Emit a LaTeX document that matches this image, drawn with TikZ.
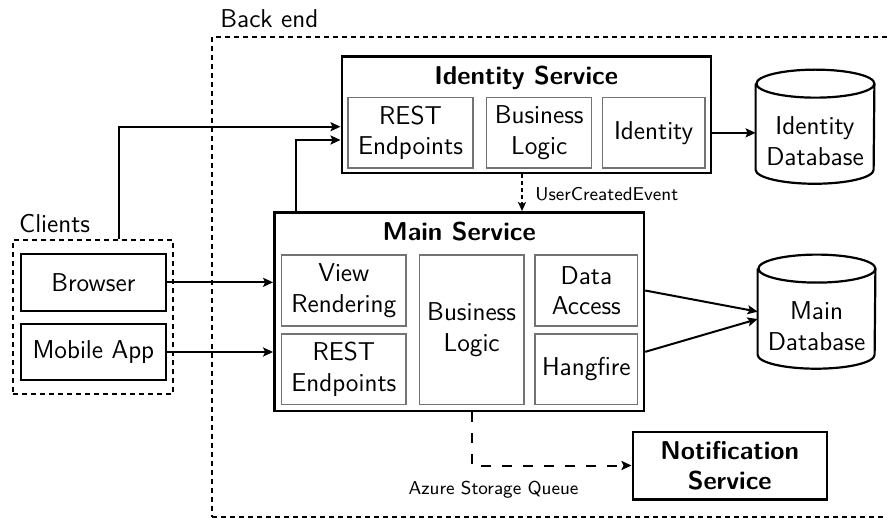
\documentclass[tikz,border=0pt]{standalone}
\usepackage{fontspec}
\usetikzlibrary{arrows.meta,calc}
\newcommand{\mainsize}{\sffamily\fontsize{12.9}{15.3}\selectfont}
\newcommand{\smallsize}{\sffamily\fontsize{9.3}{11}\selectfont}
\begin{document}
\begin{tikzpicture}[x=0.5pt,y=-0.5pt,
  every node/.style={font=\mainsize, align=center, inner sep=0pt},
  title/.style={font=\mainsize\bfseries},
  label/.style={font=\smallsize},
  outer/.style={draw, line width=1.2pt},
  part/.style={draw=black!55, line width=0.7pt},
  grp/.style={draw, line width=1pt, dash pattern=on 2.5pt off 2pt},
  dbshape/.style={draw, line width=1.1pt},
  arr/.style={line width=1pt, -{Stealth[length=5pt,width=4.5pt,inset=1pt]}},
  evt/.style={line width=1pt, dash pattern=on 2pt off 1.5pt, -{Stealth[length=4.5pt,width=4pt,inset=1pt]}},
  queue/.style={line width=1pt, dash pattern=on 5pt off 5.5pt, -{Stealth[length=5pt,width=4.5pt,inset=1pt]}}]

\useasboundingbox (0,0) rectangle (887,518);

% groups
\node[grp, minimum width=339pt, minimum height=239.75pt] (backend) at (551,276.75) {};
\node[anchor=base west] (backendlbl) at ([xshift=4.5pt,yshift=4pt]backend.north west) {Back end};
\node[grp, minimum width=80pt, minimum height=77pt] (clients) at (92.7,317) {};
\node[anchor=base west] (clientslbl) at ([xshift=3.5pt,yshift=3.5pt]clients.north west) {Clients};

% clients
\node[outer, minimum width=72.35pt, minimum height=28.35pt] (browser) at (93.35,282.35) {Browser};
\node[outer, minimum width=72.35pt, minimum height=28pt] (mobile) at (93.35,352) {Mobile App};

% identity service
\node[outer, minimum width=184.5pt, minimum height=58.3pt] (identity) at (526.2,115) {};
\node[title] (idtitle) at (526.2,78) {Identity Service};
\node[part, minimum width=62.5pt, minimum height=35.15pt] (irest) at (410.5,132.85) {REST\\Endpoints};
\node[part, minimum width=52.5pt, minimum height=35.15pt] (ibl) at (539.2,132.85) {Business\\Logic};
\node[part, minimum width=51.35pt, minimum height=35.15pt] (iid) at (653.65,132.85) {Identity};

% identity database
\node[minimum width=59pt, minimum height=42.65pt] (idb) at (815,126.7) {};
\draw[dbshape] (idb.north west) -- (idb.south west)
  arc[start angle=180,end angle=360,x radius=29.5pt,y radius=7pt]
  -- (idb.north east) arc[start angle=0,end angle=360,x radius=29.5pt,y radius=7pt];
\node (idbtext) at (815,141) {Identity\\Database};

% main service
\node[outer, minimum width=184.85pt, minimum height=99.35pt] (main) at (459.15,311.65) {};
\node[title] (maintitle) at (459.15,232) {Main Service};
\node[part, minimum width=62.15pt, minimum height=35.5pt] (mview) at (343.85,290.5) {View\\Rendering};
\node[part, minimum width=62.15pt, minimum height=35.15pt] (mrest) at (343.85,369.15) {REST\\Endpoints};
\node[part, minimum width=52.35pt, minimum height=74.65pt] (mbl) at (471.65,329.65) {Business\\Logic};
\node[part, minimum width=51.35pt, minimum height=35.5pt] (mda) at (586.35,290.5) {Data\\Access};
\node[part, minimum width=51.35pt, minimum height=35.15pt] (mhf) at (586.35,369.15) {Hangfire};

% main database
\node[minimum width=58.5pt, minimum height=42.65pt] (mdb) at (816.5,311.65) {};
\draw[dbshape] (mdb.north west) -- (mdb.south west)
  arc[start angle=180,end angle=360,x radius=29.25pt,y radius=7pt]
  -- (mdb.north east) arc[start angle=0,end angle=360,x radius=29.25pt,y radius=7pt];
\node (mdbtext) at (816.5,326) {Main\\Database};

% notification service
\node[outer, title, minimum width=97pt, minimum height=33.8pt] (notif) at (729.7,465.5) {Notification\\Service};

% connectors
\draw[arr] ([xshift=13.3pt]clients.north) |- ([yshift=-5.85pt]identity.west);
\draw[arr] ([xshift=11.2pt]main.north west) |- ([yshift=-12.5pt]identity.west);
\draw[arr] (browser.east) -- (browser.east -| main.west);
\draw[arr] (mobile.east) -- (mobile.east -| main.west);
\draw[arr] (iid.east -| identity.east) -- (iid.east -| idb.west);
\draw[arr] (mda.east -| main.east) -- (mdb.west);
\draw[arr] ([yshift=8.65pt]mhf.east -| main.east) -- ([yshift=-3.7pt]mdb.west);
\draw[evt] ([xshift=-2.1pt]identity.south) -- ([xshift=-2.1pt]identity.south |- main.north);
\node[label, anchor=west] (uce) at (535,194) {UserCreatedEvent};
\draw[queue] (mbl.south |- main.south) |- (notif.west);
\node[label] (asq) at (493.5,490) {Azure Storage Queue};
\end{tikzpicture}
\end{document}
